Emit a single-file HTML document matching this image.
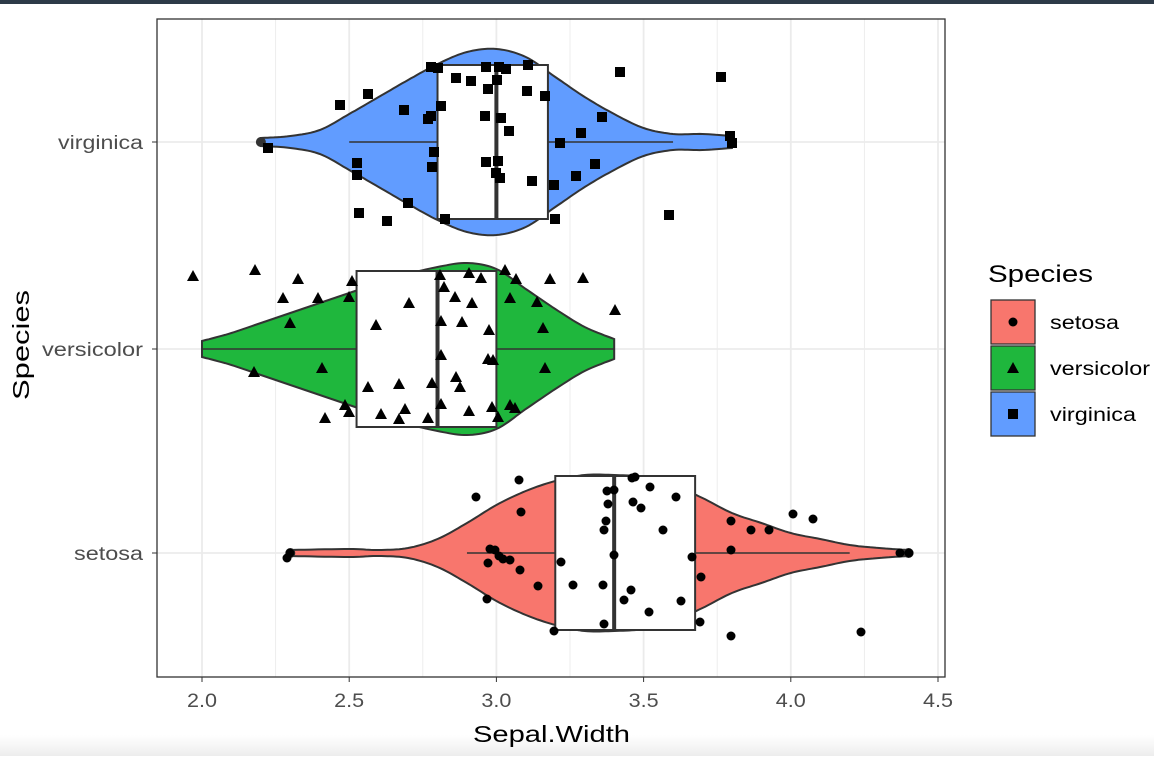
<!DOCTYPE html>
<html><head><meta charset="utf-8"><style>
body{margin:0;background:#fff;width:1154px;height:756px;overflow:hidden;font-family:"Liberation Sans",sans-serif}
</style></head><body>
<svg id="s" width="1154" height="756" xmlns="http://www.w3.org/2000/svg" font-family="Liberation Sans, sans-serif">
<rect x="0" y="0" width="1154" height="4" fill="#2d3a48"/>
<defs><linearGradient id="g" x1="0" y1="0" x2="0" y2="1"><stop offset="0" stop-color="#fff"/><stop offset="1" stop-color="#ededed"/></linearGradient></defs>
<rect x="0" y="735" width="1154" height="21" fill="url(#g)"/>
<g id="grid"></g>
<g id="vio"></g>
<g id="pts"></g>
<rect x="157" y="19" width="788" height="658" fill="none" stroke="#333" stroke-width="1.3"/>
<g id="ax" font-size="19" fill="#4d4d4d"></g>
<text x="473" y="742" font-size="23" textLength="157" lengthAdjust="spacingAndGlyphs" fill="#000">Sepal.Width</text>
<text transform="translate(29,345) rotate(-90)" font-size="23" text-anchor="middle" textLength="110" lengthAdjust="spacingAndGlyphs" fill="#000">Species</text>
<text x="988" y="282" font-size="24" textLength="105" lengthAdjust="spacingAndGlyphs" fill="#000">Species</text>
<g stroke="#333" stroke-width="1.3">
<rect x="991" y="300" width="44" height="44" fill="#F8766D"/>
<rect x="991" y="346" width="44" height="44" fill="#1FB73D"/>
<rect x="991" y="392" width="44" height="44" fill="#619CFF"/>
</g>
<circle cx="1013" cy="322" r="4.5" fill="#000"/>
<polygon points="1013,362 1019,373 1007,373" fill="#000"/>
<rect x="1008" y="409" width="10" height="10" fill="#000"/>
<g font-size="19" fill="#000"><text x="1050" y="329" textLength="69" lengthAdjust="spacingAndGlyphs">setosa</text><text x="1050" y="375" textLength="100" lengthAdjust="spacingAndGlyphs">versicolor</text><text x="1050" y="421" textLength="86" lengthAdjust="spacingAndGlyphs">virginica</text></g>
</svg>
<script>
const NS="http://www.w3.org/2000/svg";
const X=v=>202+(v-2)*294.4;
function el(p,t,a){const e=document.createElementNS(NS,t);for(const k in a)e.setAttribute(k,a[k]);document.getElementById(p).appendChild(e);return e;}
for(let v=2;v<=4.5;v+=0.25){const major=Math.abs(v*2-Math.round(v*2))<1e-6;const x=X(v);
el("grid","line",{x1:x,x2:x,y1:19,y2:677,stroke:"#ebebeb","stroke-width":major?1.8:0.9});}
[142,349,553].forEach(y=>el("grid","line",{x1:157,x2:945,y1:y,y2:y,stroke:"#ebebeb","stroke-width":1.8}));
["2.0","2.5","3.0","3.5","4.0","4.5"].forEach(t=>{const x=X(+t);el("ax","line",{x1:x,x2:x,y1:677,y2:682,stroke:"#333"});const e=el("ax","text",{x:x-15,y:707,textLength:30,lengthAdjust:"spacingAndGlyphs"});e.textContent=t;});
[["virginica",142,85],["versicolor",349,101],["setosa",553,69]].forEach(([t,y,w])=>{el("ax","line",{x1:152,x2:157,y1:y,y2:y,stroke:"#333"});const e=el("ax","text",{x:143-w,y:y+7,textLength:w,lengthAdjust:"spacingAndGlyphs"});e.textContent=t;});
function spline(pr){const r=[];for(let i=0;i<pr.length-1;i++){const p0=pr[Math.max(0,i-1)],p1=pr[i],p2=pr[i+1],p3=pr[Math.min(pr.length-1,i+2)];for(let k=0;k<10;k++){const t=k/10,t2=t*t,t3=t2*t;const f=(a,b,c,d)=>0.5*(2*b+(-a+c)*t+(2*a-5*b+4*c-d)*t2+(-a+3*b-3*c+d)*t3);r.push([f(p0[0],p1[0],p2[0],p3[0]),f(p0[1],p1[1],p2[1],p3[1])]);}}r.push(pr[pr.length-1]);return r;}
function violin(cy,prof,fill,w1,w2,q1,q3,med,bh){
const s=spline(prof);let d="M"+s.map(p=>X(p[0]).toFixed(1)+","+(cy-p[1]).toFixed(1)).join(" L");
d+=" L"+s.slice().reverse().map(p=>X(p[0]).toFixed(1)+","+(cy+p[1]).toFixed(1)).join(" L")+"Z";
el("vio","path",{d:d,fill:fill,stroke:"#333","stroke-width":2});
el("vio","line",{x1:X(w1),x2:X(w2),y1:cy,y2:cy,stroke:"#333","stroke-width":1.6});
el("vio","rect",{x:X(q1),y:cy-bh,width:X(q3)-X(q1),height:2*bh,fill:"#fff",stroke:"#333","stroke-width":2});
el("vio","line",{x1:X(med),x2:X(med),y1:cy-bh,y2:cy+bh,stroke:"#333","stroke-width":4});}
violin(142,[[2.2,4],[2.3,6],[2.4,12],[2.5,28],[2.6,45],[2.7,62],[2.8,78],[2.9,90],[3.0,93],[3.1,85],[3.2,65],[3.3,45],[3.4,28],[3.5,14],[3.6,8],[3.7,8],[3.8,6]],"#619CFF",2.5,3.6,2.8,3.175,3.0,77);
el("vio","circle",{cx:X(2.2),cy:142,r:5,fill:"#333"});el("vio","circle",{cx:X(3.8),cy:142,r:5,fill:"#333"});
violin(349,[[2.0,8],[2.1,16],[2.2,26],[2.3,36],[2.4,46],[2.5,56],[2.6,66],[2.7,75],[2.8,82],[2.9,86],[3.0,80],[3.1,60],[3.2,40],[3.3,22],[3.4,10]],"#1FB73D",2.0,3.4,2.525,3.0,2.8,78);
violin(553,[[2.3,3],[2.5,4],[2.6,3],[2.7,5],[2.8,14],[2.9,30],[3.0,48],[3.1,62],[3.2,72],[3.3,78],[3.4,78],[3.5,76],[3.6,68],[3.7,55],[3.8,40],[3.9,30],[4.0,20],[4.1,14],[4.2,8],[4.3,5],[4.4,3]],"#F8766D",2.9,4.2,3.2,3.675,3.4,77);
el("vio","circle",{cx:X(2.3),cy:553,r:5,fill:"#333"});el("vio","circle",{cx:X(4.4),cy:553,r:5,fill:"#333"});
const sq=[[340,105],[368,94],[431,67],[438,68],[486,67],[499,67],[506,69],[528,65],[620,72],[721,77],[456,78],[471,81],[497,80],[488,89],[527,91],[545,96],[404,110],[431,116],[441,106],[428,119],[485,116],[501,118],[509,131],[581,133],[560,143],[434,152],[595,164],[357,163],[357,175],[432,167],[486,162],[498,161],[500,178],[532,181],[554,185],[576,176],[602,117],[408,203],[359,213],[387,221],[445,219],[496,173],[555,219],[669,215],[730,136],[732,143],[268,148]];
sq.forEach(([x,y])=>el("pts","rect",{x:x-5,y:y-5,width:10,height:10,fill:"#000"}));
const tr=[[193,276],[255,270],[298,279],[283,298],[318,298],[349,297],[290,323],[352,281],[440,275],[469,273],[481,278],[505,270],[516,279],[550,279],[583,278],[444,287],[455,297],[472,303],[409,303],[510,298],[537,302],[615,310],[489,330],[376,325],[441,321],[462,322],[543,328],[254,372],[322,368],[441,355],[488,359],[493,360],[545,368],[368,387],[399,384],[432,383],[456,377],[460,387],[345,405],[349,412],[381,414],[405,409],[441,404],[469,411],[492,407],[510,405],[325,418],[399,419],[428,418],[498,417],[515,408]];
tr.forEach(([x,y])=>el("pts","polygon",{points:`${x},${y-6} ${x+6},${y+5} ${x-6},${y+5}`,fill:"#000"}));
const dt=[[476,497],[519,480],[607,491],[614,490],[632,478],[635,477],[650,487],[676,497],[521,512],[608,504],[633,502],[641,508],[663,530],[606,521],[604,530],[731,521],[751,530],[769,530],[793,514],[813,519],[490,549],[495,550],[499,556],[503,559],[510,560],[488,563],[520,570],[561,562],[614,555],[692,557],[731,550],[900,553],[909,553],[287,558],[290,553],[538,586],[573,585],[603,585],[631,590],[487,599],[624,600],[649,612],[681,601],[701,577],[554,631],[604,624],[700,622],[731,636],[861,632]];
dt.forEach(([x,y])=>el("pts","circle",{cx:x,cy:y,r:4.5,fill:"#000"}));
</script>
</body></html>
